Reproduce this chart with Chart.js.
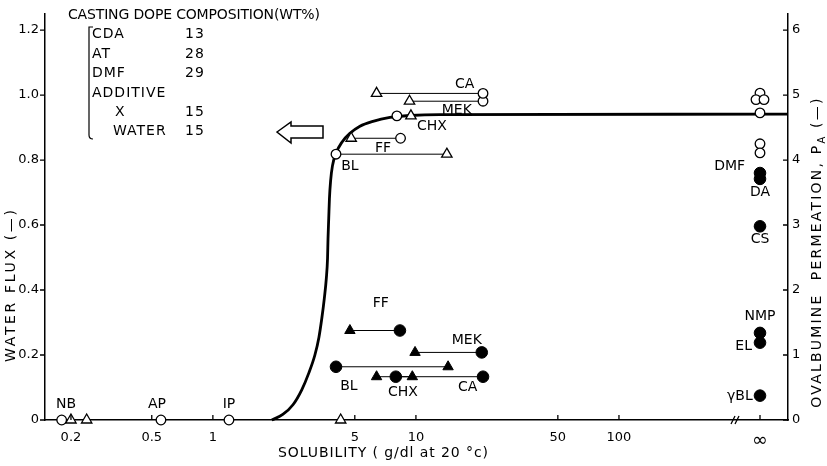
<!DOCTYPE html>
<html>
<head>
<meta charset="utf-8">
<script src="https://cdn.jsdelivr.net/npm/chart.js@4.4.1/dist/chart.umd.min.js"></script>
<style>
  html, body { margin: 0; padding: 0; background: #fff; }
  #wrap { width: 827px; height: 466px; }
</style>
</head>
<body>
<div id="wrap"><canvas id="myChart"></canvas></div>
<script>
// where the "infinity" column sits on the solubility axis
const INF = 495;

const xTicks = [0.2, 0.5, 1, 5, 10, 50, 100, INF];
const xTickLabels = ['0.2', '0.5', '1', '5', '10', '50', '100', '∞'];
const fluxTicks = [0, 0.2, 0.4, 0.6, 0.8, 1.0, 1.2];
const paTicks = [0, 1, 2, 3, 4, 5, 6];

// master curve, water flux vs solubility
const curveX = [1.95, 2.21, 2.48, 2.74, 2.97, 3.18, 3.33, 3.44, 3.54, 3.62, 3.67, 3.69, 3.72, 3.75, 3.80, 3.88,
                4.04, 4.32, 4.73, 5.30, 6.14, 7.45, 9.34, 13.1, 680];
const curveY = [0, 0.017, 0.047, 0.093, 0.145, 0.200, 0.255, 0.313, 0.375, 0.436, 0.497, 0.558, 0.620, 0.681, 0.736, 0.782,
                0.821, 0.855, 0.882, 0.904, 0.919, 0.931, 0.937, 0.940, 0.941];

// additives measured as a triangle / circle pair
const pairNames = ['CA', 'MEK', 'CHX', 'FF', 'BL'];
// open symbols: water flux (left axis)
const fluxTriX = [6.4, 9.3, 9.45, 4.8, 14.2];
const fluxCircX = [21.4, 21.4, 8.06, 8.4, 4.04];
const fluxPairY = [1.005, 0.981, 0.936, 0.867, 0.818];
// filled symbols: ovalbumine permeation (right axis)
const paTriX = [6.4, 9.9, 9.6, 4.73, 14.4];
const paCircX = [21.4, 21.1, 7.96, 8.34, 4.04];
const paPairY = [0.666, 1.04, 0.666, 1.377, 0.819];

// additives with zero flux
const zeroNames = ['NB', 'AP', 'IP'];
const zeroCircX = [0.18, 0.555, 1.2];
const zeroTriX = [0.2, 0.239, 4.26];

// infinitely soluble additives
const infFluxX = [INF, 473, 518, INF, INF, INF];
const infFluxY = [1.006, 0.986, 0.986, 0.945, 0.850, 0.822];
const infNames = ['DMF', 'DA', 'CS', 'NMP', 'EL', 'γBL'];
const infPaY = [3.80, 3.71, 2.98, 1.34, 1.19, 0.375];

const FONT = '"DejaVu Sans", sans-serif';

const pt = (xs, ys) => xs.map((x, i) => ({ x: x, y: Array.isArray(ys) ? ys[i] : ys }));

const datasets = [];
datasets.push({
    data: pt(curveX, curveY),
    yAxisID: 'y',
    showLine: true,
    borderColor: '#000',
    borderWidth: 2.8,
    pointRadius: 0,
    cubicInterpolationMode: 'monotone',
    order: 10,
});
pairNames.forEach((name, i) => {
    datasets.push({
        data: [{ x: fluxTriX[i], y: fluxPairY[i] }, { x: fluxCircX[i], y: fluxPairY[i] }],
        yAxisID: 'y',
        showLine: true,
        borderColor: '#000',
        borderWidth: 1,
        pointStyle: ['triangle', 'circle'],
        pointRadius: [6, 4.8],
        pointBackgroundColor: '#fff',
        pointBorderColor: '#000',
        pointBorderWidth: 1.3,
    });
    datasets.push({
        data: [{ x: paTriX[i], y: paPairY[i] }, { x: paCircX[i], y: paPairY[i] }],
        yAxisID: 'pa',
        showLine: true,
        borderColor: '#000',
        borderWidth: 1,
        pointStyle: ['triangle', 'circle'],
        pointRadius: [6, 5.8],
        pointBackgroundColor: '#000',
        pointBorderColor: '#000',
        pointBorderWidth: 1,
    });
});
datasets.push({
    data: pt(zeroCircX, 0), yAxisID: 'y', pointStyle: 'circle', pointRadius: 4.8,
    pointBackgroundColor: '#fff', pointBorderColor: '#000', pointBorderWidth: 1.3,
});
datasets.push({
    data: pt(zeroTriX, 0), yAxisID: 'y', pointStyle: 'triangle', pointRadius: 6,
    pointBackgroundColor: '#fff', pointBorderColor: '#000', pointBorderWidth: 1.3,
});
datasets.push({
    data: pt(infFluxX, infFluxY), yAxisID: 'y', pointStyle: 'circle', pointRadius: 4.8,
    pointBackgroundColor: '#fff', pointBorderColor: '#000', pointBorderWidth: 1.3,
});
datasets.push({
    data: pt(infPaY.map(() => INF), infPaY), yAxisID: 'pa', pointStyle: 'circle', pointRadius: 5.8,
    pointBackgroundColor: '#000', pointBorderColor: '#000', pointBorderWidth: 1,
});
datasets.forEach(d => { d.clip = false; });

// text next to the marks: [text, x, y, axis, align]
const marks = [
    ['CA', 17.4, 1.033, 'y', 'center'],
    ['MEK', 15.9, 0.953, 'y', 'center'],
    ['CHX', 12.0, 0.904, 'y', 'center'],
    ['FF', 6.88, 0.837, 'y', 'center'],
    ['BL', 4.73, 0.782, 'y', 'center'],
    ['FF', 6.72, 1.80, 'pa', 'center'],
    ['MEK', 17.8, 1.23, 'pa', 'center'],
    ['BL', 4.68, 0.51, 'pa', 'center'],
    ['CHX', 8.63, 0.42, 'pa', 'center'],
    ['CA', 18.0, 0.50, 'pa', 'center'],
    [zeroNames[0], 0.189, 0.047, 'y', 'center'],
    [zeroNames[1], 0.53, 0.047, 'y', 'center'],
    [zeroNames[2], 1.2, 0.047, 'y', 'center'],
    [infNames[0], 418, 3.91, 'pa', 'right'],
    [infNames[1], INF, 3.51, 'pa', 'center'],
    [infNames[2], INF, 2.78, 'pa', 'center'],
    [infNames[3], INF, 1.60, 'pa', 'center'],
    [infNames[4], 452, 1.14, 'pa', 'right'],
    [infNames[5], 456, 0.36, 'pa', 'right'],
];

function fitText(ctx, text, x, y, width) {
    ctx.letterSpacing = '0px';
    const w = ctx.measureText(text).width;
    const n = text.length;
    if (width && n > 1) {
        ctx.letterSpacing = ((width - w) / (n - 1)).toFixed(2) + 'px';
        // letter spacing also pads the last glyph, keep the text centred
        if (ctx.textAlign === 'center') x += (width - w) / (n - 1) / 2;
    }
    ctx.fillText(text, x, y);
    ctx.letterSpacing = '0px';
}

const decor = {
    id: 'decor',
    afterDraw(chart) {
        const ctx = chart.ctx;
        const xs = chart.scales.x, ys = chart.scales.y, ps = chart.scales.pa;
        const area = chart.chartArea;
        ctx.save();
        ctx.strokeStyle = '#000';
        ctx.fillStyle = '#000';
        ctx.lineWidth = 1.3;

        // tick marks
        ctx.beginPath();
        fluxTicks.forEach(v => {
            const y = ys.getPixelForValue(v);
            ctx.moveTo(area.left - 5, y); ctx.lineTo(area.left, y);
        });
        paTicks.forEach(v => {
            const y = ps.getPixelForValue(v);
            ctx.moveTo(area.right - 5, y); ctx.lineTo(area.right, y);
        });
        xTicks.forEach(v => {
            const x = xs.getPixelForValue(v);
            ctx.moveTo(x, area.bottom); ctx.lineTo(x, area.bottom - 5);
        });
        ctx.stroke();

        // axis break
        const bx = xs.getPixelForValue(INF) - 25;
        ctx.beginPath();
        [-2, 2].forEach(d => {
            ctx.moveTo(bx + d - 2, area.bottom + 4);
            ctx.lineTo(bx + d + 2, area.bottom - 4);
        });
        ctx.stroke();

        // open arrow pointing to the flux axis
        ctx.lineWidth = 1.5;
        ctx.beginPath();
        ctx.moveTo(277, 132);
        ctx.lineTo(291, 122);
        ctx.lineTo(291, 126);
        ctx.lineTo(323, 126);
        ctx.lineTo(323, 138);
        ctx.lineTo(291, 138);
        ctx.lineTo(291, 143);
        ctx.closePath();
        ctx.stroke();

        // composition bracket
        ctx.lineWidth = 1.2;
        ctx.beginPath();
        ctx.moveTo(93, 27);
        ctx.lineTo(89, 27);
        ctx.lineTo(89, 135);
        ctx.quadraticCurveTo(89, 139, 93, 139);
        ctx.stroke();

        ctx.textBaseline = 'middle';
        ctx.font = '14px ' + FONT;
        ctx.textAlign = 'left';
        fitText(ctx, 'CASTING DOPE COMPOSITION(WT%)', 68, 15, 252);
        const rows = [['CDA', '13', 92, 34], ['AT', '28', 92, 54], ['DMF', '29', 92, 73],
                      ['ADDITIVE', '', 92, 93], ['X', '15', 115, 112], ['WATER', '15', 113, 131]];
        ctx.letterSpacing = '1px';
        rows.forEach(r => {
            ctx.fillText(r[0], r[2], r[3]);
            if (r[1]) ctx.fillText(r[1], 185, r[3]);
        });
        ctx.letterSpacing = '0px';

        // labels beside the marks
        ctx.font = '14px ' + FONT;
        marks.forEach(m => {
            const sc = m[3] === 'y' ? ys : ps;
            ctx.textAlign = m[4];
            ctx.fillText(m[0], xs.getPixelForValue(m[1]), sc.getPixelForValue(m[2]));
        });

        // axis titles
        ctx.textAlign = 'center';
        ctx.font = '14px ' + FONT;
        fitText(ctx, 'SOLUBILITY ( g/dl at 20 °c)', 383, 453, 210);

        ctx.save();
        ctx.translate(11, 286);
        ctx.rotate(-Math.PI / 2);
        fitText(ctx, 'WATER FLUX (—)', 0, 0, 152);
        ctx.restore();

        ctx.save();
        ctx.translate(817, 252);
        ctx.rotate(-Math.PI / 2);
        ctx.textAlign = 'left';
        const t1 = 'OVALBUMINE  PERMEATION, P';
        const t2 = ' (—)';
        const sp = 2.2;
        ctx.font = '14px ' + FONT;
        ctx.letterSpacing = sp + 'px';
        const w1 = ctx.measureText(t1).width;
        const w2 = ctx.measureText(t2).width;
        ctx.font = '10px ' + FONT;
        const ws = ctx.measureText('A').width;
        const x0 = -(w1 + ws + w2) / 2;
        ctx.font = '14px ' + FONT;
        ctx.fillText(t1, x0, 0);
        ctx.fillText(t2, x0 + w1 + ws, 0);
        ctx.font = '10px ' + FONT;
        ctx.fillText('A', x0 + w1, 5);
        ctx.letterSpacing = '0px';
        ctx.restore();

        ctx.restore();
    }
};

const tickFont = { family: FONT, size: 13 };

new Chart(document.getElementById('myChart'), {
    type: 'scatter',
    data: { datasets: datasets },
    plugins: [decor],
    options: {
        responsive: true,
        maintainAspectRatio: false,
        animation: false,
        layout: { padding: { top: 12 } },
        plugins: { legend: { display: false }, tooltip: { enabled: false } },
        scales: {
            x: {
                type: 'logarithmic',
                min: 0.149,
                max: 680,
                afterBuildTicks: s => { s.ticks = xTicks.map(v => ({ value: v })); },
                afterFit: s => { s.height = 46; },
                grid: { display: false, drawTicks: false },
                border: { display: true, color: '#000', width: 1.5 },
                ticks: {
                    autoSkip: false, maxRotation: 0, color: '#000',
                    padding: c => (c.tick && c.tick.value === INF ? 8 : 10),
                    font: c => (c.tick && c.tick.value === INF ? { family: FONT, size: 19 } : tickFont),
                    callback: v => xTickLabels[xTicks.indexOf(v)] || '',
                },
            },
            y: {
                position: 'left',
                min: 0,
                max: 1.25,
                afterBuildTicks: s => { s.ticks = fluxTicks.map(v => ({ value: v })); },
                afterFit: s => { s.width = 45; },
                grid: { display: false, drawTicks: false },
                border: { display: true, color: '#000', width: 1.5 },
                ticks: { padding: 6, color: '#000', font: tickFont, callback: v => v === 0 ? '0' : v.toFixed(1) },
            },
            pa: {
                position: 'right',
                min: 0,
                max: 6.25,
                afterBuildTicks: s => { s.ticks = paTicks.map(v => ({ value: v })); },
                afterFit: s => { s.width = 39; },
                grid: { display: false, drawTicks: false },
                border: { display: true, color: '#000', width: 1.5 },
                ticks: { padding: 4, color: '#000', font: tickFont },
            },
        },
    },
});
</script>
</body>
</html>
